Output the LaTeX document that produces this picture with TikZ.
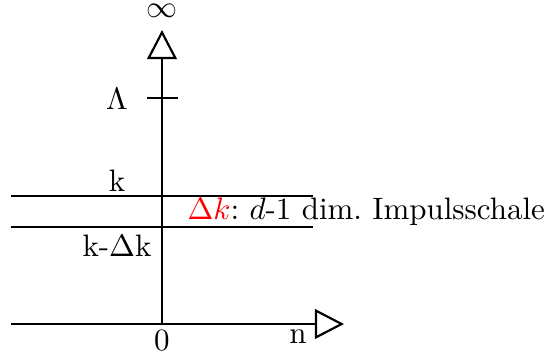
\documentclass[tikz,border=0pt]{standalone}
\usetikzlibrary{arrows.meta}
\begin{document}
\begin{tikzpicture}[x=0.3226pt,y=-0.3226pt,
  axis/.style={line width=0.7pt,-{Triangle[open,length=9.4pt,width=9.6pt,fill=white]}},
  ln/.style={line width=0.7pt},
  lbl/.style={inner sep=0pt}]
\useasboundingbox (0,0) rectangle (548,362);
\coordinate (o) at (162,324);
\coordinate (left) at (11,324);
\coordinate (xend) at (344,324);
\coordinate (yend) at (162,30);
\draw[axis] (left) -- (xend);
\draw[axis] (o) -- (yend);
\coordinate (lamL) at (147,98);
\coordinate (lamR) at (178,98);
\draw[ln] (lamL) -- (lamR);
\coordinate (kL) at (11,196);
\coordinate (kR) at (313,196);
\draw[ln] (kL) -- (kR);
\coordinate (kdL) at (11,227);
\coordinate (kdR) at (313,227);
\draw[ln] (kdL) -- (kdR);
\node[lbl] (inf) at (162,11) {$\infty$};
\node[lbl] (lam) at (117,99) {$\Lambda$};
\node[lbl] (k) at (117,181) {k};
\node[lbl] (kd) at (117,246) {k-$\Delta$k};
\node[lbl,anchor=west] (shell) at (187,212) {\textcolor{red}{$\Delta k$}:\ $d$-1 dim.\ Impulsschale};
\node[lbl] (zero) at (162,341) {0};
\node[lbl] (n) at (298,337) {n};
\end{tikzpicture}
\end{document}
